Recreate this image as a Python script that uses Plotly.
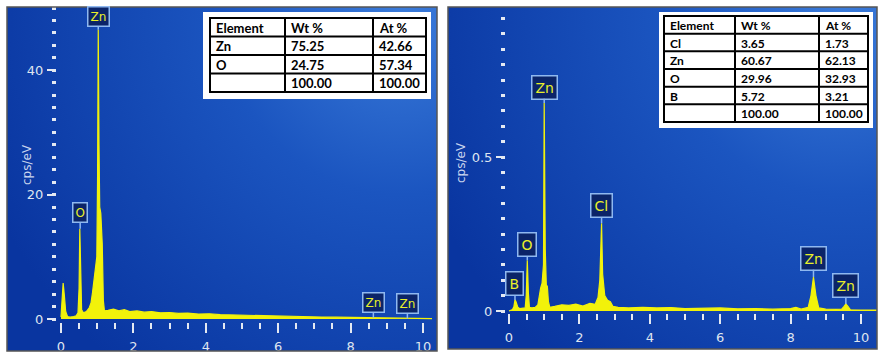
import base64
import plotly.graph_objects as go

W, H = 886, 355

# ---------------- data ----------------
# Left spectrum (ZnO): energy (keV) vs cps/eV
left_energy = [0.00, 0.03, 0.06, 0.09, 0.13, 0.18, 0.25, 0.35, 0.42, 0.47, 0.50, 0.52, 0.54, 0.57,
               0.62, 0.70, 0.78, 0.83, 0.87, 0.91, 0.95, 0.99, 1.01, 1.03, 1.05, 1.07, 1.10, 1.14,
               1.17, 1.20, 1.30, 1.45, 1.60, 1.75, 1.90, 2.10, 2.30, 2.50, 2.75, 3.00, 3.25, 3.50,
               3.80, 4.10, 4.40, 4.70, 5.00, 5.30, 5.60, 6.00, 6.40, 6.80, 7.20, 7.60, 8.00, 8.30,
               8.55, 8.63, 8.75, 9.00, 9.30, 9.57, 9.80, 10.00, 10.25]
left_cps = [0.3, 3.0, 5.8, 4.0, 1.2, 0.4, 0.3, 0.4, 0.5, 1.0, 5.0, 14.5, 6.0, 1.5,
            1.0, 1.2, 1.8, 2.6, 4.2, 6.3, 7.5, 10.0, 22.0, 46.5, 28.0, 18.0, 17.0, 12.0,
            3.0, 1.3, 1.4, 1.6, 1.3, 1.5, 1.2, 1.3, 1.1, 1.2, 1.0, 1.05, 0.9, 0.95,
            0.8, 0.85, 0.7, 0.65, 0.6, 0.55, 0.5, 0.45, 0.4, 0.38, 0.32, 0.3, 0.25, 0.2,
            0.2, 0.25, 0.15, 0.1, 0.08, 0.1, 0.06, 0.05, 0.05]

# Right spectrum (Cl/B doped ZnO)
right_energy = [0.00, 0.10, 0.14, 0.17, 0.20, 0.25, 0.30, 0.40, 0.46, 0.49, 0.52, 0.55, 0.58, 0.65,
                0.75, 0.82, 0.86, 0.90, 0.94, 0.98, 1.00, 1.03, 1.06, 1.09, 1.12, 1.16, 1.30, 1.50,
                1.70, 1.90, 2.10, 2.30, 2.45, 2.53, 2.58, 2.61, 2.63, 2.66, 2.72, 2.80, 2.88, 2.95,
                3.10, 3.40, 3.80, 4.20, 4.60, 5.00, 5.50, 6.00, 6.50, 7.00, 7.50, 8.00, 8.15, 8.30,
                8.50, 8.58, 8.65, 8.72, 8.80, 9.00, 9.30, 9.45, 9.52, 9.57, 9.63, 9.70, 10.00, 10.45]
right_cps = [0.0, 0.005, 0.015, 0.036, 0.03, 0.012, 0.008, 0.008, 0.01, 0.05, 0.165, 0.06, 0.012, 0.01,
             0.012, 0.02, 0.05, 0.075, 0.09, 0.15, 0.675, 0.2, 0.085, 0.08, 0.03, 0.012, 0.015, 0.02,
             0.018, 0.022, 0.016, 0.025, 0.022, 0.045, 0.1, 0.22, 0.285, 0.12, 0.05, 0.035, 0.03, 0.015,
             0.012, 0.01, 0.012, 0.01, 0.011, 0.008, 0.009, 0.01, 0.007, 0.008, 0.006, 0.008, 0.012, 0.006,
             0.012, 0.05, 0.11, 0.05, 0.01, 0.006, 0.005, 0.006, 0.015, 0.023, 0.015, 0.004, 0.003, 0.003]

# peak labels: (element, energy, peak height, label offset px)
left_labels = [("Zn", 1.03, 46.5, -13), ("O", 0.53, 14.5, -16), ("Zn", 8.63, 0.2, -15), ("Zn", 9.57, 0.1, -15)]
right_labels = [("B", 0.17, 0.036, -16), ("O", 0.52, 0.165, -16), ("Zn", 1.00, 0.675, -16),
                ("Cl", 2.63, 0.285, -18), ("Zn", 8.65, 0.11, -19), ("Zn", 9.57, 0.023, -18)]

# composition tables
left_elements = ["Zn", "O", ""]
left_wt = ["75.25", "24.75", "100.00"]
left_at = ["42.66", "57.34", "100.00"]
right_elements = ["Cl", "Zn", "O", "B", ""]
right_wt = ["3.65", "60.67", "29.96", "5.72", "100.00"]
right_at = ["1.73", "62.13", "32.93", "3.21", "100.00"]
table_header = ["Element", "Wt %", "At %"]


def px_x(p):
    return p / W


def px_y(p):
    return 1 - p / H


def grad_uri(w, h):
    svg = (f"<svg xmlns='http://www.w3.org/2000/svg' width='{w}' height='{h}' viewBox='0 0 {w} {h}' "
           f"preserveAspectRatio='none'><defs><radialGradient id='g' gradientUnits='userSpaceOnUse' "
           f"cx='{w*0.92}' cy='{h*0.02}' r='{w*1.05}'>"
           f"<stop offset='0' stop-color='#3a7bda'/><stop offset='0.4' stop-color='#1b55c0'/>"
           f"<stop offset='1' stop-color='#0935a0'/></radialGradient></defs>"
           f"<rect width='{w}' height='{h}' fill='url(#g)'/></svg>")
    return "data:image/svg+xml;base64," + base64.b64encode(svg.encode()).decode()


fig = go.Figure()

yellow = "#f2f20a"
fig.add_trace(go.Scatter(x=left_energy, y=left_cps, mode="lines", fill="tozeroy",
                         line=dict(color=yellow, width=1.2), fillcolor=yellow,
                         xaxis="x", yaxis="y", hoverinfo="skip", showlegend=False))
fig.add_trace(go.Scatter(x=right_energy, y=right_cps, mode="lines", fill="tozeroy",
                         line=dict(color=yellow, width=1.2), fillcolor=yellow,
                         xaxis="x2", yaxis="y2", hoverinfo="skip", showlegend=False))

tick_font = dict(family="DejaVu Sans", size=13, color="#dfe5f0")
tickc = "#e4e9f2"

common_x = dict(showgrid=False, zeroline=False, showline=False, ticks="outside", ticklen=10,
                tickwidth=2, tickcolor=tickc, dtick=2, tick0=0, tickfont=tick_font, automargin=False,
                ticklabelstandoff=2,
                minor=dict(ticks="outside", ticklen=6, tickwidth=2, tickcolor=tickc, dtick=0.5, tick0=0))

fig.update_layout(
    width=W, height=H, margin=dict(l=0, r=0, t=0, b=0, pad=0),
    paper_bgcolor="white", plot_bgcolor="rgba(0,0,0,0)",
    xaxis=dict(domain=[px_x(57), px_x(432)], range=[-0.11, 10.25], anchor="y", **common_x),
    yaxis=dict(domain=[px_y(322), px_y(8)], range=[-0.48, 50], anchor="x", automargin=False,
               showgrid=False, zeroline=False, showline=False, ticks="outside", ticklen=9,
               tickwidth=2, tickcolor=tickc, tickvals=[0, 20, 40], tickfont=tick_font,
               ticklabelstandoff=1,
               minor=dict(ticks="outside", ticklen=4, tickwidth=2.5, tickcolor=tickc, dtick=2, tick0=0)),
    xaxis2=dict(domain=[px_x(506), px_x(877)], range=[-0.085, 10.455], anchor="y2", **common_x),
    yaxis2=dict(domain=[px_y(313), px_y(7)], range=[-0.0065, 0.987], anchor="x2", automargin=False,
                showgrid=False, zeroline=False, showline=False, ticks="outside", ticklen=9,
                tickwidth=2, tickcolor=tickc, tickvals=[0, 0.5], ticktext=["0", "0.5"], tickfont=tick_font,
                ticklabelstandoff=1,
                minor=dict(ticks="outside", ticklen=4, tickwidth=2.5, tickcolor=tickc, dtick=0.05, tick0=0)),
)

# panel backgrounds
fig.add_layout_image(dict(source=grad_uri(430, 344), xref="paper", yref="paper",
                          x=px_x(7), y=px_y(7), sizex=430 / W, sizey=344 / H,
                          sizing="stretch", xanchor="left", yanchor="top", layer="below"))
fig.add_layout_image(dict(source=grad_uri(429, 342), xref="paper", yref="paper",
                          x=px_x(448), y=px_y(7), sizex=429 / W, sizey=342 / H,
                          sizing="stretch", xanchor="left", yanchor="top", layer="below"))

shapes = [
    dict(type="rect", xref="paper", yref="paper", x0=px_x(7), x1=px_x(437), y0=px_y(351), y1=px_y(7),
         line=dict(color="#555555", width=1.5), fillcolor="rgba(0,0,0,0)", layer="above"),
    dict(type="rect", xref="paper", yref="paper", x0=px_x(448), x1=px_x(877), y0=px_y(349), y1=px_y(7),
         line=dict(color="#555555", width=1.5), fillcolor="rgba(0,0,0,0)", layer="above"),
    # white boxes behind tables
    dict(type="rect", xref="paper", yref="paper", x0=px_x(203), x1=px_x(431), y0=px_y(99), y1=px_y(12),
         line=dict(width=0), fillcolor="white", layer="above"),
    dict(type="rect", xref="paper", yref="paper", x0=px_x(659), x1=px_x(873), y0=px_y(128), y1=px_y(12),
         line=dict(width=0), fillcolor="white", layer="above"),
]
annotations = []

tfam = "Lato, Carlito, sans-serif"


def add_table(columns, col_edges, y_top, rowh, fsize):
    nrows = len(columns[0])
    y_bot = y_top + rowh * nrows
    # outer border and grid lines
    shapes.append(dict(type="rect", xref="paper", yref="paper", x0=px_x(col_edges[0]), x1=px_x(col_edges[-1]),
                       y0=px_y(y_bot), y1=px_y(y_top), line=dict(color="black", width=2),
                       fillcolor="white", layer="above"))
    for xe in col_edges[1:-1]:
        shapes.append(dict(type="line", xref="paper", yref="paper", x0=px_x(xe), x1=px_x(xe),
                           y0=px_y(y_bot), y1=px_y(y_top), line=dict(color="black", width=2), layer="above"))
    for r in range(1, nrows):
        yy = y_top + r * rowh
        shapes.append(dict(type="line", xref="paper", yref="paper", x0=px_x(col_edges[0]), x1=px_x(col_edges[-1]),
                           y0=px_y(yy), y1=px_y(yy), line=dict(color="black", width=2), layer="above"))
    for c, col in enumerate(columns):
        for r, val in enumerate(col):
            if not val:
                continue
            annotations.append(dict(x=px_x(col_edges[c] + 4), y=px_y(y_top + (r + 0.5) * rowh + 0.5),
                                    xref="paper", yref="paper", text=f"<b>{val}</b>", showarrow=False,
                                    xanchor="left", yanchor="middle",
                                    font=dict(family=tfam, size=fsize, color="black")))


add_table([[table_header[0]] + left_elements, [table_header[1]] + left_wt, [table_header[2]] + left_at],
          [210, 285, 373, 426], 18, 18.5, 13)
add_table([[table_header[0]] + right_elements, [table_header[1]] + right_wt, [table_header[2]] + right_at],
          [664, 735, 819, 868], 16, 17.67, 12)

fig.update_layout(shapes=shapes)


def add_peak_labels(labels, xr, yr, fsize, pad):
    for el, e, h, ay in labels:
        annotations.append(dict(x=e, y=h, xref=xr, yref=yr, text=el, showarrow=True,
                                ax=0, ay=ay, arrowhead=0, arrowwidth=1.5, arrowcolor="#8fb8f0",
                                standoff=0, bgcolor="#0b2468", bordercolor="#8fb8f0", borderwidth=1.5,
                                borderpad=pad, font=dict(family="DejaVu Sans", size=fsize, color="#e9ef2a")))


add_peak_labels(left_labels, "x", "y", 12, 2)
add_peak_labels(right_labels, "x2", "y2", 14, 3)

annotations.append(dict(x=px_x(18), y=px_y(165), xref="paper", yref="paper", text="cps/eV",
                        showarrow=False, textangle=-90,
                        font=dict(family="DejaVu Sans", size=12, color="#c9d5ee")))
annotations.append(dict(x=px_x(461), y=px_y(163), xref="paper", yref="paper", text="cps/eV",
                        showarrow=False, textangle=-90,
                        font=dict(family="DejaVu Sans", size=12, color="#c9d5ee")))
fig.update_layout(annotations=annotations)

fig.write_html("out.html", post_script="document.body.style.margin='0px';",
               config={"displayModeBar": False})
